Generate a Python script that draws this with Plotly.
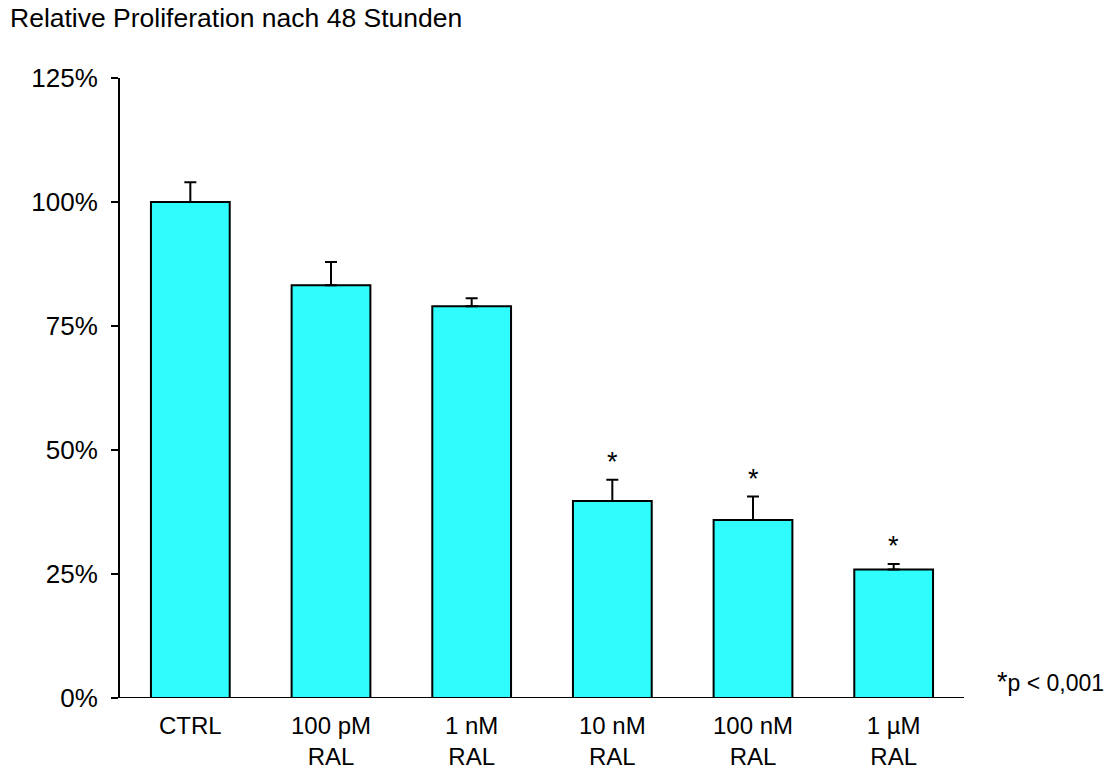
import plotly.graph_objects as go

categories = ["CTRL", "100 pM<br>RAL", "1 nM<br>RAL", "10 nM<br>RAL", "100 nM<br>RAL", "1 µM<br>RAL"]
values = [100.0, 83.2, 79.0, 39.7, 35.9, 25.9]
errors = [4.0, 4.7, 1.6, 4.3, 4.7, 1.1]
significant = [False, False, False, True, True, True]
y_ticks = [0, 25, 50, 75, 100, 125]
y_tick_labels = ["0%", "25%", "50%", "75%", "100%", "125%"]

FONT = "Liberation Sans, Arial, sans-serif"

fig = go.Figure()
fig.add_trace(go.Bar(
    x=categories,
    y=values,
    marker=dict(color="#2efcfd", line=dict(color="black", width=2)),
    error_y=dict(type="data", symmetric=False, array=errors,
                 arrayminus=[0] * len(errors), color="black",
                 thickness=2, width=6),
    width=0.56,
    hoverinfo="skip",
))

for cat, v, e, s in zip(categories, values, errors, significant):
    if s:
        fig.add_annotation(x=cat, y=v + e, text="*", showarrow=False,
                           yanchor="middle", yshift=18,
                           font=dict(family=FONT, size=27, color="black"))

fig.add_annotation(x=1 + 33/844, xref="paper", y=0, yref="y", yshift=16,
                   xanchor="left", yanchor="middle", showarrow=False,
                   text="<span style='font-size:27px'>*</span>p < 0,001",
                   font=dict(family=FONT, size=23, color="black"),
                   xshift=-2)

fig.add_annotation(x=-112/844, xref="paper", y=1, yref="paper",
                   yshift=60, xanchor="left", yanchor="middle", showarrow=False,
                   text="Relative Proliferation nach 48 Stunden",
                   font=dict(family=FONT, size=26.5, color="black"))

# x-axis baseline extending left under the y tick marks
fig.add_shape(type="line", xref="paper", yref="y",
              x0=-7/844, x1=1, y0=0, y1=0,
              line=dict(color="black", width=2), layer="above")

fig.update_layout(
    width=1111, height=773,
    margin=dict(l=120, r=147, t=78, b=75),
    paper_bgcolor="white", plot_bgcolor="white",
    showlegend=False,
    font=dict(family=FONT, size=24, color="black"),
    xaxis=dict(range=[-0.5, 5.5], showline=False, ticks="",
               showgrid=False, zeroline=False, automargin=False,
               tickfont=dict(family=FONT, size=24, color="black"),
               ticklabelstandoff=11),
    yaxis=dict(range=[0, 125], tickvals=y_ticks, ticktext=y_tick_labels,
               showline=True, linecolor="black", linewidth=2,
               ticks="outside", ticklen=7, tickwidth=2, tickcolor="black",
               showgrid=False, zeroline=False, automargin=False,
               tickfont=dict(family=FONT, size=26, color="black"),
               ticklabelstandoff=8),
)

fig.write_html("out.html",
               config={"displayModeBar": False},
               post_script="document.body.style.margin='0';"
                           "document.body.style.overflow='hidden';")
